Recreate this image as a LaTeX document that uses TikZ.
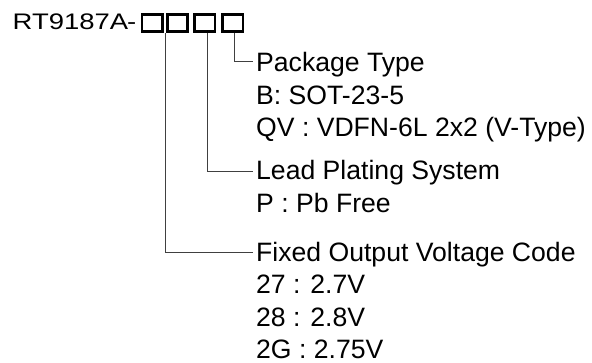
\documentclass[tikz,border=0pt]{standalone}
\usepackage{fontspec}
\setmainfont{Liberation Sans}
\begin{document}
\begin{tikzpicture}[x=1pt,y=-1pt,
  lbl/.style={anchor=base west,inner sep=0pt,font=\fontsize{26.6}{32}\selectfont},
  ttl/.style={anchor=base west,inner sep=0pt,font=\fontsize{22.5}{28}\selectfont},
  codebox/.style={draw,line width=2.7pt,minimum width=20.5pt,minimum height=17.5pt,inner sep=0pt},
  conn/.style={line width=0.9pt,draw=black!75}]
\useasboundingbox (0,0) rectangle (592,363);
\node[ttl] (title) at (12.5,30) {\scalebox{1.22}[1]{RT9187A}};
\node[ttl] (dash) at (127,30) {\scalebox{1.22}[1]{-}};
\node[codebox] (b1) at (152.3,23) {};
\node[codebox] (b2) at (177.5,23) {};
\node[codebox] (b3) at (204.7,23) {};
\node[codebox] (b4) at (232.8,23) {};
\node[lbl] (pk) at (256,71.7) {Package Type};
\node[lbl] (pk1) at (256,104.2) {B: SOT-23-5};
\node[lbl] (pk2) at (256,136.7) {QV : VDFN-6L 2x2 (V-Type)};
\node[lbl] (ld) at (256,180) {Lead Plating System};
\node[lbl] (ld1) at (256,212.5) {P : Pb Free};
\node[lbl] (fx) at (256,261.7) {Fixed Output Voltage Code};
\node[lbl] (fx1) at (256,294) {27 : 2.7V};
\node[lbl] (fx2) at (256,326.5) {28 : 2.8V};
\node[lbl] (fx3) at (256,358.5) {2G : 2.75V};
\draw[conn] ([xshift=1.5pt]b4.south) |- ([xshift=-3pt,yshift=10pt]pk.base west);
\draw[conn] ([xshift=3pt]b3.south) |- ([xshift=-3pt,yshift=8.3pt]ld.base west);
\draw[conn] ([xshift=2pt]b1.south east) |- ([xshift=-3pt,yshift=9pt]fx.base west);
\end{tikzpicture}
\end{document}
